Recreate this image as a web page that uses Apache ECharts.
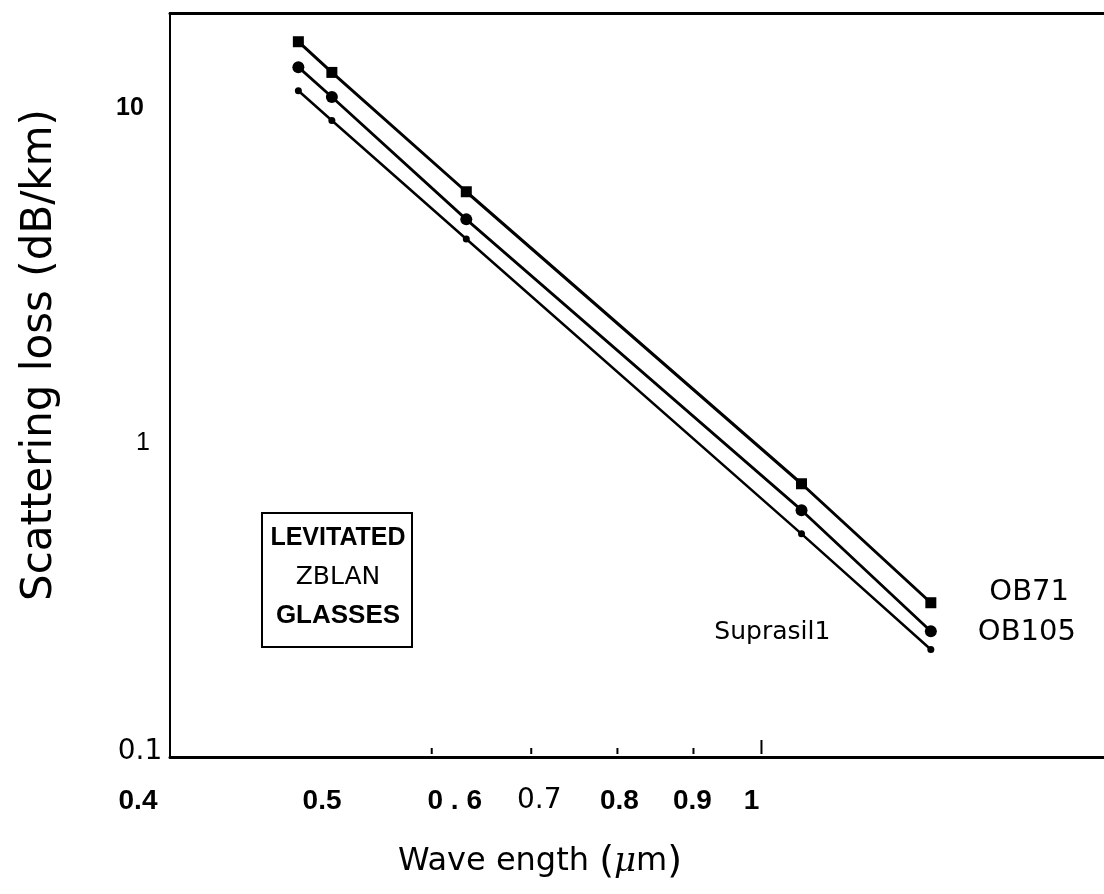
<!DOCTYPE html>
<html>
<head>
<meta charset="utf-8">
<title>Scattering loss vs wavelength</title>
<script src="https://cdn.jsdelivr.net/npm/echarts@6/dist/echarts.min.js"></script>
<style>
  html, body { margin: 0; padding: 0; background: #fff; }
  #chart { width: 1104px; height: 894px; }
</style>
</head>
<body>
<div id="chart"></div>
<script>
// wavelengths in um (argon 488/514, HeNe 633, Nd:YAG 1064, 1300)
var wavelengths = [0.488, 0.514, 0.633, 1.064, 1.3]
var ob71 = [16.3, 13.1, 5.6, 0.70, 0.30]
var ob105 = [13.6, 11.0, 4.6, 0.58, 0.245]
var suprasil = [11.5, 9.3, 4.0, 0.49, 0.215]

var xTickValues = [0.6, 0.7, 0.8, 0.9, 1]
var xLabelValues = [0.4, 0.5, 0.6, 0.7, 0.8, 0.9, 1]
var xLabelTexts = ['0.4', '0.5', '0 . 6', '0.7', '0.8', '0.9', '1']
var yLabelValues = [0.1, 1, 10]
var yLabelTexts = ['0.1', '1', '10']

var xMin = 0.4
var xMax = 1.7
var yMin = 0.1
var yMax = 20

var BOLD = { fontFamily: '"Liberation Sans", Arial, sans-serif', fontWeight: 'bold', fontSize: 28 }
var THIN = { fontFamily: '"DejaVu Sans", sans-serif', fontWeight: 'normal', fontSize: 28 }

// the scanned labels sit a bit off their ticks
var xLabelShift = [-32, 8, 23, 8, 2, -1, -10]
var xLabelFont = [BOLD, BOLD, BOLD, THIN, BOLD, BOLD, BOLD]
var yLabelNudge = [[-30, -5], [-27, 9], [-40, -2]]
var yLabelFont = [
  THIN,
  { fontFamily: '"Liberation Sans", Arial, sans-serif', fontWeight: 'normal', fontSize: 25 },
  { fontFamily: '"Liberation Sans", Arial, sans-serif', fontWeight: 'bold', fontSize: 25 }
]

var chart = echarts.init(document.getElementById('chart'))

function pairs (ys, lastLabel) {
  return wavelengths.map(function (x, i) {
    var item = { value: [x, ys[i]] }
    if (i === wavelengths.length - 1) item.label = lastLabel
    return item
  })
}

function lineSeries (name, ys, symbol, size, width, lastLabel) {
  return {
    name: name,
    type: 'line',
    data: pairs(ys, lastLabel),
    symbol: symbol,
    symbolSize: size,
    color: '#000',
    lineStyle: { color: '#000', width: width },
    itemStyle: { color: '#000' },
    label: { show: false },
    silent: true,
    z: 5
  }
}

function nameLabel (text, pos, off, size) {
  return {
    show: true,
    position: pos,
    offset: off,
    formatter: text,
    color: '#000',
    fontFamily: 'DejaVu Sans',
    fontSize: size
  }
}

function textStyle (txt, f) {
  return {
    text: txt,
    fontFamily: f.fontFamily,
    fontWeight: f.fontWeight,
    fontSize: f.fontSize,
    fill: '#000',
    align: 'center',
    verticalAlign: 'middle'
  }
}

var option = {
  animation: false,
  backgroundColor: '#fff',
  grid: { left: 170, right: 0, top: 13, bottom: 137 },
  xAxis: [
    {
      type: 'log',
      min: xMin,
      max: xMax,
      position: 'bottom',
      axisLine: { lineStyle: { color: '#000', width: 3 } },
      axisTick: { show: false },
      axisLabel: { show: false },
      splitLine: { show: false }
    },
    {
      type: 'log',
      min: xMin,
      max: xMax,
      position: 'top',
      axisLine: { lineStyle: { color: '#000', width: 3 } },
      axisTick: { show: false },
      axisLabel: { show: false },
      splitLine: { show: false }
    }
  ],
  yAxis: {
    type: 'log',
    min: yMin,
    max: yMax,
    axisLine: { show: true, lineStyle: { color: '#000', width: 2 } },
    axisTick: { show: false },
    axisLabel: { show: false },
    splitLine: { show: false }
  },
  series: [
    lineSeries('OB71', ob71, 'rect', 11, 3, nameLabel('OB71', 'right', [48, -10], 29)),
    lineSeries('OB105', ob105, 'circle', 12, 2.8, nameLabel('OB105', 'right', [36, 1], 29)),
    lineSeries('Suprasil1', suprasil, 'circle', 7, 2.5, nameLabel('Suprasil1', 'left', [-92, -17], 25)),
    {
      // x ticks
      type: 'custom',
      silent: true,
      data: xTickValues.map(function (v) { return [v, yMin] }),
      renderItem: function (params, api) {
        var p = api.coord([api.value(0), api.value(1)])
        var len = api.value(0) === 1 ? 14 : 6
        return {
          type: 'line',
          shape: { x1: p[0], y1: p[1] - 3, x2: p[0], y2: p[1] - 3 - len },
          style: { stroke: '#000', lineWidth: 2 }
        }
      }
    },
    {
      // x tick labels
      type: 'custom',
      silent: true,
      data: xLabelValues.map(function (v, i) { return [v, yMin, i] }),
      renderItem: function (params, api) {
        var i = api.value(2)
        var p = api.coord([api.value(0), api.value(1)])
        return {
          type: 'text',
          x: p[0] + xLabelShift[i],
          y: p[1] + 44,
          style: textStyle(xLabelTexts[i], xLabelFont[i])
        }
      }
    },
    {
      // y tick labels
      type: 'custom',
      silent: true,
      data: yLabelValues.map(function (v, i) { return [xMin, v, i] }),
      renderItem: function (params, api) {
        var i = api.value(2)
        var p = api.coord([api.value(0), api.value(1)])
        return {
          type: 'text',
          x: p[0] + yLabelNudge[i][0],
          y: p[1] + yLabelNudge[i][1],
          style: textStyle(yLabelTexts[i], yLabelFont[i])
        }
      }
    }
  ],
  graphic: [
    {
      type: 'rect',
      shape: { x: 262, y: 513, width: 150, height: 134 },
      style: { fill: '#fff', stroke: '#000', lineWidth: 2 },
      z: 10
    },
    {
      type: 'text',
      x: 338, y: 538,
      style: { text: 'LEVITATED', fontFamily: '"Liberation Sans", Arial, sans-serif', fontWeight: 'bold', fontSize: 25, fill: '#000', align: 'center', verticalAlign: 'middle' },
      z: 11
    },
    {
      type: 'text',
      x: 338, y: 577,
      style: { text: 'ZBLAN', fontFamily: '"DejaVu Sans", sans-serif', fontSize: 25, fill: '#000', align: 'center', verticalAlign: 'middle' },
      z: 11
    },
    {
      type: 'text',
      x: 338, y: 616,
      style: { text: 'GLASSES', fontFamily: '"Liberation Sans", Arial, sans-serif', fontWeight: 'bold', fontSize: 26, fill: '#000', align: 'center', verticalAlign: 'middle' },
      z: 11
    },
    {
      type: 'text',
      x: 40, y: 355,
      rotation: Math.PI / 2,
      style: { text: 'Scattering loss (dB/km)', fontFamily: '"DejaVu Sans", sans-serif', fontSize: 42, fill: '#000', align: 'center', verticalAlign: 'middle' }
    },
    {
      type: 'text',
      x: 540, y: 862,
      style: {
        text: '{n|Wave ength }{p|(}{mu|μ}{n|m}{p|)}',
        align: 'center',
        verticalAlign: 'middle',
        rich: {
          n: { fontFamily: '"DejaVu Sans", sans-serif', fontSize: 32, fill: '#000' },
          p: { fontFamily: '"DejaVu Sans", sans-serif', fontSize: 38, fill: '#000' },
          mu: { fontFamily: '"DejaVu Serif", serif', fontStyle: 'italic', fontSize: 34, fill: '#000' }
        }
      }
    }
  ]
}

chart.setOption(option)
</script>
</body>
</html>
